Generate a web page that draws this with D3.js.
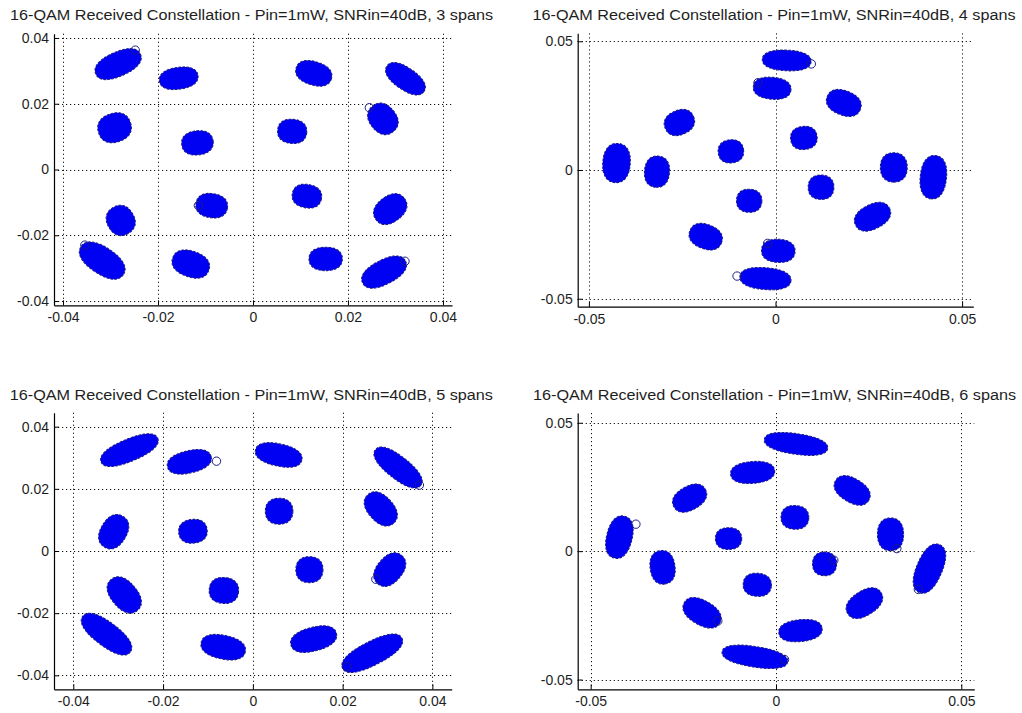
<!DOCTYPE html>
<html>
<head>
<meta charset="utf-8">
<script src="https://cdn.jsdelivr.net/npm/d3@7"></script>
<style>
  html, body { margin: 0; padding: 0; background: #fff; }
  svg { display: block; }
  text { font-family: "Liberation Sans", Arial, Helvetica, sans-serif; fill: #1e1e1e; }
</style>
</head>
<body>
<svg id="fig" width="1022" height="713"></svg>
<script>
// Received 16-QAM symbol clouds after 3, 4, 5 and 6 fibre spans.
// Each cloud: [I start, Q start, I end, Q end, half-width] (I/Q units, tip to tip along its long axis)
const spans3Clusters = [
  [-0.0330, 0.0291, -0.0238, 0.0350, 0.0028],
  [-0.0196, 0.0269, -0.0117, 0.0286, 0.0025],
  [ 0.0092, 0.0309,  0.0164, 0.0276, 0.0027],
  [ 0.0283, 0.0314,  0.0359, 0.0238, 0.0025],
  [-0.0324, 0.0112, -0.0259, 0.0142, 0.0034],
  [-0.0149, 0.0076, -0.0085, 0.0086, 0.0028],
  [ 0.0053, 0.0120,  0.0112, 0.0112, 0.0028],
  [ 0.0252, 0.0191,  0.0295, 0.0117, 0.0031],
  [-0.0294,-0.0117, -0.0263,-0.0193, 0.0032],
  [-0.0119,-0.0103, -0.0055,-0.0117, 0.0028],
  [ 0.0084,-0.0073,  0.0143,-0.0089, 0.0027],
  [ 0.0260,-0.0152,  0.0318,-0.0089, 0.0030],
  [-0.0361,-0.0235, -0.0274,-0.0319, 0.0031],
  [-0.0168,-0.0269, -0.0094,-0.0306, 0.0030],
  [ 0.0119,-0.0272,  0.0187,-0.0272, 0.0027],
  [ 0.0232,-0.0345,  0.0320,-0.0279, 0.0028]
];
const spans4Clusters = [
  [-0.0034, 0.0430,  0.0094, 0.0421, 0.0030],
  [-0.0058, 0.0324,  0.0040, 0.0311, 0.0032],
  [ 0.0140, 0.0285,  0.0226, 0.0236, 0.0036],
  [-0.0294, 0.0162, -0.0221, 0.0207, 0.0036],
  [ 0.0042, 0.0119,  0.0110, 0.0130, 0.0034],
  [-0.0152, 0.0067, -0.0087, 0.0078, 0.0034],
  [-0.0422, 0.0101, -0.0430,-0.0047, 0.0041],
  [-0.0314, 0.0052, -0.0321,-0.0065, 0.0037],
  [ 0.0317, 0.0065,  0.0317,-0.0045, 0.0040],
  [ 0.0429, 0.0054,  0.0417,-0.0110, 0.0039],
  [ 0.0089,-0.0065,  0.0155,-0.0069, 0.0036],
  [-0.0103,-0.0117, -0.0038,-0.0122, 0.0034],
  [ 0.0216,-0.0214,  0.0304,-0.0149, 0.0036],
  [-0.0228,-0.0236, -0.0146,-0.0282, 0.0036],
  [-0.0036,-0.0311,  0.0051,-0.0317, 0.0034],
  [-0.0094,-0.0414,  0.0040,-0.0430, 0.0032]
];
const spans5Clusters = [
  [-0.0337, 0.0287, -0.0213, 0.0362, 0.0027],
  [-0.0189, 0.0271, -0.0094, 0.0303, 0.0027],
  [ 0.0007, 0.0325,  0.0108, 0.0293, 0.0027],
  [ 0.0274, 0.0325,  0.0373, 0.0212, 0.0027],
  [ 0.0257, 0.0180,  0.0313, 0.0091, 0.0031],
  [ 0.0029, 0.0128,  0.0088, 0.0128, 0.0032],
  [-0.0164, 0.0059, -0.0103, 0.0068, 0.0029],
  [-0.0330, 0.0014, -0.0290, 0.0110, 0.0032],
  [ 0.0097,-0.0059,  0.0155,-0.0061, 0.0032],
  [ 0.0279,-0.0104,  0.0331,-0.0016, 0.0031],
  [-0.0096,-0.0123, -0.0033,-0.0131, 0.0032],
  [-0.0315,-0.0093, -0.0258,-0.0190, 0.0032],
  [-0.0378,-0.0211, -0.0274,-0.0324, 0.0029],
  [-0.0114,-0.0295, -0.0018,-0.0324, 0.0029],
  [ 0.0086,-0.0302,  0.0185,-0.0265, 0.0029],
  [ 0.0201,-0.0377,  0.0331,-0.0281, 0.0029]
];
const spans6Clusters = [
  [-0.0030, 0.0435,  0.0138, 0.0400, 0.0030],
  [-0.0121, 0.0300, -0.0005, 0.0313, 0.0032],
  [-0.0274, 0.0173, -0.0192, 0.0240, 0.0035],
  [ 0.0162, 0.0274,  0.0249, 0.0199, 0.0035],
  [ 0.0015, 0.0134,  0.0087, 0.0129, 0.0035],
  [-0.0162, 0.0049, -0.0094, 0.0049, 0.0032],
  [-0.0409, 0.0134, -0.0436,-0.0025, 0.0038],
  [ 0.0309, 0.0127,  0.0309, 0.0004, 0.0039],
  [-0.0312, 0.0000, -0.0300,-0.0126, 0.0037],
  [ 0.0100,-0.0048,  0.0162,-0.0051, 0.0035],
  [ 0.0441, 0.0023,  0.0387,-0.0159, 0.0038],
  [-0.0087,-0.0126, -0.0014,-0.0136, 0.0034],
  [-0.0246,-0.0201, -0.0153,-0.0279, 0.0036],
  [ 0.0195,-0.0243,  0.0282,-0.0162, 0.0036],
  [ 0.0009,-0.0318,  0.0123,-0.0301, 0.0032],
  [-0.0144,-0.0392,  0.0030,-0.0431, 0.0030]
];

// Stray received symbols sitting just outside their clouds: [I, Q]
const spans3Outliers = [[0.0245, 0.0188], [0.0320, -0.0279], [-0.0354, -0.0230], [-0.0115, -0.0110], [-0.0248, 0.0363]];
const spans4Outliers = [[0.0096, 0.0412], [-0.0103, -0.0412], [-0.0021, -0.0285], [-0.0047, 0.0339]];
const spans5Outliers = [[-0.0081, 0.0289], [0.0274, -0.0091], [0.0371, 0.0212], [0.0209, -0.0372]];
const spans6Outliers = [[-0.0378, 0.0105], [0.0326, 0.0010], [0.0384, -0.0149], [-0.0157, -0.0272], [0.0023, -0.0422], [0.0156, -0.0035]];

// Tick values and their labels
const ticksFine = [-0.04, -0.02, 0, 0.02, 0.04];
const ticksFineLabels = ["-0.04", "-0.02", "0", "0.02", "0.04"];
const ticksCoarse = [-0.05, 0, 0.05];
const ticksCoarseLabels = ["-0.05", "0", "0.05"];

const spanCounts = [3, 4, 5, 6];
const titleText = n => `16-QAM Received Constellation - Pin=1mW, SNRin=40dB, ${n} spans`;

const panels = [
  { spans: spanCounts[0], clusters: spans3Clusters, outliers: spans3Outliers,
    ticks: ticksFine, labels: ticksFineLabels,
    xLim: [-0.0419, 0.0419], yLim: [-0.0413, 0.0413],
    box: { l: 54, r: 452, t: 33.7, b: 305.3 }, titleY: 20 },
  { spans: spanCounts[1], clusters: spans4Clusters, outliers: spans4Outliers,
    ticks: ticksCoarse, labels: ticksCoarseLabels,
    xLim: [-0.053, 0.053], yLim: [-0.0531, 0.0531],
    box: { l: 577.7, r: 973.3, t: 33.3, b: 306.7 }, titleY: 20 },
  { spans: spanCounts[2], clusters: spans5Clusters, outliers: spans5Outliers,
    ticks: ticksFine, labels: ticksFineLabels,
    xLim: [-0.0443, 0.0443], yLim: [-0.0445, 0.0445],
    box: { l: 54, r: 451.7, t: 412.7, b: 689.3 }, titleY: 400 },
  { spans: spanCounts[3], clusters: spans6Clusters, outliers: spans6Outliers,
    ticks: ticksCoarse, labels: ticksCoarseLabels,
    xLim: [-0.0535, 0.0535], yLim: [-0.0538, 0.0538],
    box: { l: 577.7, r: 974.3, t: 413, b: 689.3 }, titleY: 400 }
];

const svg = d3.select("#fig");
const CLOUD = "#0000f2";
const RING = "#1d1d86";
const MARKER_R = 1.0;   // extra pixels for the marker rims around each cloud
const SQUARENESS = 2.3; // superellipse exponent for the cloud outline

// closed superellipse outline centred on 0,0
function cloudPath(rx, ry) {
  const pts = d3.range(0, 96).map(i => {
    const a = i / 96 * 2 * Math.PI;
    const c = Math.cos(a), s = Math.sin(a);
    return [rx * Math.sign(c) * Math.pow(Math.abs(c), 2 / SQUARENESS),
            ry * Math.sign(s) * Math.pow(Math.abs(s), 2 / SQUARENESS)];
  });
  return d3.line().curve(d3.curveLinearClosed)(pts);
}

panels.forEach(p => {
  const { l, r, t, b } = p.box;
  const x = d3.scaleLinear().domain(p.xLim).range([l, r]);
  const y = d3.scaleLinear().domain(p.yLim).range([b, t]);
  const kx = Math.abs(x(1) - x(0));
  const ky = Math.abs(y(1) - y(0));
  const kAvg = Math.sqrt(kx * ky);
  const g = svg.append("g");

  // dotted grid under the data
  const grid = g.append("g")
    .attr("stroke", "#111").attr("stroke-width", 1)
    .attr("stroke-dasharray", "1.2,2.8").attr("fill", "none");
  grid.selectAll("line.v").data(p.ticks).join("line")
    .attr("class", "v")
    .attr("x1", d => Math.round(x(d)) + 0.5).attr("x2", d => Math.round(x(d)) + 0.5)
    .attr("y1", t).attr("y2", b);
  grid.selectAll("line.h").data(p.ticks).join("line")
    .attr("class", "h")
    .attr("y1", d => Math.round(y(d)) + 0.5).attr("y2", d => Math.round(y(d)) + 0.5)
    .attr("x1", l).attr("x2", r);

  // symbol clouds
  const clouds = p.clusters.map(c => {
    const x0 = x(c[0]), y0 = y(c[1]), x1 = x(c[2]), y1 = y(c[3]);
    const cx = (x0 + x1) / 2, cy = (y0 + y1) / 2;
    const ry = c[4] * kAvg;
    const rx = Math.max(Math.hypot(x1 - x0, y1 - y0) / 2, ry);
    const ang = Math.atan2(y1 - y0, x1 - x0) * 180 / Math.PI;
    return { cx, cy, rx: rx + MARKER_R * 0.5, ry: ry + MARKER_R, ang };
  });
  g.append("g").selectAll("path").data(clouds).join("path")
    .attr("transform", d => `translate(${d.cx},${d.cy}) rotate(${d.ang})`)
    .attr("d", d => cloudPath(d.rx, d.ry))
    .attr("fill", CLOUD)
    .attr("stroke", RING).attr("stroke-width", 1.1)
    .attr("stroke-dasharray", "2.5,1.5");

  // stray symbols drawn as open circles
  g.append("g").selectAll("circle").data(p.outliers).join("circle")
    .attr("cx", d => x(d[0])).attr("cy", d => y(d[1]))
    .attr("r", 4.2)
    .attr("fill", "none").attr("stroke", RING).attr("stroke-width", 1);

  // axes with inward ticks
  const fmt = v => p.labels[p.ticks.indexOf(v)];
  const ax = g.append("g").attr("transform", `translate(0,${b})`)
    .call(d3.axisBottom(x).tickValues(p.ticks).tickFormat(fmt)
      .tickSizeInner(-5).tickSizeOuter(0).tickPadding(7));
  const ay = g.append("g").attr("transform", `translate(${l},0)`)
    .call(d3.axisLeft(y).tickValues(p.ticks).tickFormat(fmt)
      .tickSizeInner(-5).tickSizeOuter(0).tickPadding(5));
  [ax, ay].forEach(a => {
    a.select(".domain").attr("stroke", "#000").attr("stroke-width", 1.2);
    a.selectAll(".tick line").attr("stroke", "#000");
    a.selectAll("text").attr("font-size", 14)
      .attr("font-family", '"Liberation Sans", Arial, sans-serif')
      .attr("fill", "#1e1e1e");
  });

  // title
  const title = g.append("text")
    .attr("x", (l + r) / 2 - 1.5).attr("y", p.titleY)
    .attr("text-anchor", "middle")
    .attr("font-size", 14)
    .text(titleText(p.spans));
  title.attr("textLength", 483).attr("lengthAdjust", "spacingAndGlyphs");
});
</script>
</body>
</html>
